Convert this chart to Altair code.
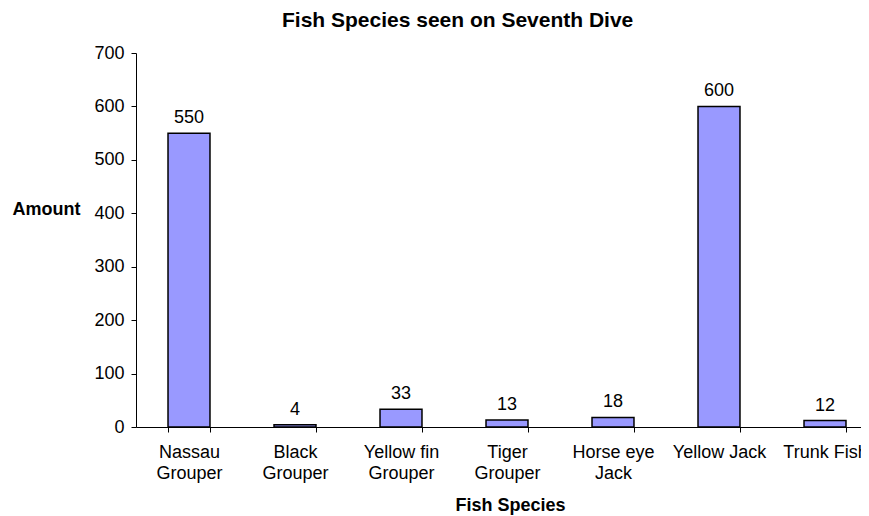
import altair as alt
import pandas as pd

species = ["Nassau\nGrouper", "Black\nGrouper", "Yellow fin\nGrouper", "Tiger\nGrouper",
           "Horse eye\nJack", "Yellow Jack", "Trunk Fish"]
amounts = [550, 4, 33, 13, 18, 600, 12]

df = pd.DataFrame({"species": species, "amount": amounts})

FONT = "Liberation Sans"

base = alt.Chart(df).encode(
    x=alt.X("species:N", sort=species,
            scale=alt.Scale(paddingInner=0.604, paddingOuter=0.302, range=[0, 742]),
            axis=alt.Axis(title="Fish Species", labelAngle=0,
                          labelExpr="isValid(datum.value) ? split(datum.value, '\\n') : ''",
                          tickBand="extent", tickSize=5, tickColor="black",
                          domainColor="black", labelFontSize=18, labelColor="black",
                          labelFont=FONT, labelPadding=11, labelLineHeight=21,
                          labelBaseline="top",
                          titleFont=FONT, titleFontSize=18, titleFontWeight="bold",
                          titleColor="black", titleX=374, titleY=83,
                          titleBaseline="alphabetic", titleAlign="center")),
    y=alt.Y("amount:Q",
            scale=alt.Scale(domain=[0, 700], nice=False),
            axis=alt.Axis(title="Amount", values=list(range(0, 701, 100)),
                          grid=False, tickSize=5, tickColor="black",
                          domainColor="black", labelFontSize=18, labelColor="black",
                          labelFont=FONT, labelPadding=7,
                          titleFont=FONT, titleFontSize=18, titleFontWeight="bold",
                          titleColor="black", titleAngle=0, titleX=-90, titleY=156,
                          titleAlign="center", titleBaseline="middle")),
)

bars = base.mark_bar(color="#9999FF", stroke="black", strokeWidth=1.5)
labels = base.mark_text(dy=-10, baseline="alphabetic", fontSize=18, font=FONT,
                        color="black").encode(text="amount:Q")

chart = (bars + labels).properties(
    width=725, height=374,
    title=alt.TitleParams("Fish Species seen on Seventh Dive", font=FONT,
                          fontSize=21, fontWeight="bold", color="black",
                          anchor="start", frame="group", dx=146, offset=13),
    autosize=alt.AutoSizeParams(type="none"),
    padding={"left": 128, "top": 45, "right": 0, "bottom": 90},
).configure_view(stroke=None)

chart.save("out.html", embed_options={"renderer": "svg", "actions": False})
